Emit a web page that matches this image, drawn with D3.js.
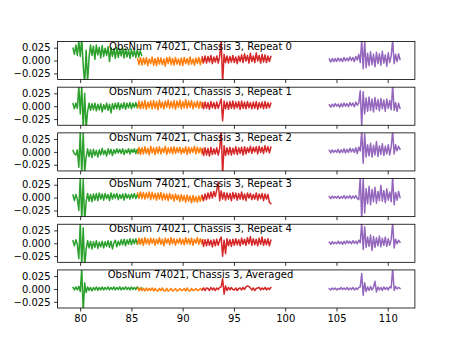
<!DOCTYPE html>
<html><head><meta charset="utf-8">
<script src="https://cdn.jsdelivr.net/npm/d3@7"></script>
<style>body{margin:0;background:#fff}svg{display:block}text{font-family:"DejaVu Sans",sans-serif}</style>
</head><body>
<script>
// Panel titles
const titles = ["ObsNum 74021, Chassis 3, Repeat 0","ObsNum 74021, Chassis 3, Repeat 1","ObsNum 74021, Chassis 3, Repeat 2","ObsNum 74021, Chassis 3, Repeat 3","ObsNum 74021, Chassis 3, Repeat 4","ObsNum 74021, Chassis 3, Averaged"];
// frequency span of each band (GHz)
const bandStart = [79.3, 85.6, 91.9, 104.3];
const bandEnd   = [86.0, 92.0, 98.6, 111.2];
const bandColors = ["#2ca02c","#ff7f0e","#d62728","#9467bd"];
const xTicks = [80,85,90,95,100,105,110];
const yTicks = [0.025,0,-0.025];
// values in units of 1e-3
const green0 = [24,12,30,10,38,8,44,-10,-45,20,-42,6,30,10,28,2,30,11,26,5,29,8,24,10,27,-2,25,8,23,4,26,6,22,9,25,5,23,7,21,4,22,8,20,6,21,7,19,10];
const orange0 = [4,-8,6,-9,5,-7,6,-10,3,-6,7,-9,4,-10,6,-7,5,-8,3,-11,6,-6,7,-8,4,-9,6,-7,3,-9,5,-10,6,-6,4,-8,7,-7,3,-9,5,-6,6,-8,4,-5];
const red0 = [7,-4,9,-5,8,-3,10,-6,7,-3,9,-5,8,40,-42,12,-4,9,-5,8,-3,10,-4,7,-6,9,-2,11,-4,13,-1,10,-5,14,-2,9,-4,15,-1,10,-5,12,-3,11,-4,9,-2,8];
const purple0 = [3,-3,4,-2,4,-2,5,-1,4,-2,6,-1,5,-1,7,0,6,-2,8,1,12,-4,40,-16,38,-14,14,-10,17,-8,12,-12,16,-6,13,-9,18,-5,11,-11,15,-4,9,40,-6,12,-2,13,2];

const green1 = [5,-5,6,-4,40,-15,42,-45,25,-44,-10,6,-8,5,-7,6,-9,4,-7,5,-11,3,-6,6,-8,4,-13,5,-6,6,-5,7,-7,5,-4,7,-6,6,-3,7,-5,6,-2,7,-3,6,-2,5];
const orange1 = [-3,10,-5,9,-4,11,-6,8,-3,10,-5,11,-4,9,-7,12,-3,8,-5,10,-2,12,-4,9,-3,11,-6,10,-2,12,-5,9,-3,13,-4,10,-2,11,-5,8,-2,10,-4,9,-3,7];
const red1 = [6,-5,8,-4,7,-6,9,-3,7,-5,8,-4,5,14,-28,10,-5,8,-6,9,-4,10,-5,8,-3,9,-6,10,-4,8,-5,9,-3,7,-5,8,-4,9,-6,7,-3,8,-5,9,-4,7,-3,6];
const purple1 = [3,-2,4,-1,5,0,4,-2,5,-1,6,0,5,-1,7,1,6,-1,8,2,6,30,-40,28,-15,16,-10,18,-8,14,-11,17,-6,13,-9,15,-5,12,-10,14,-4,11,-7,40,-8,7,-10,6,-4];

const green2 = [3,-4,-6,4,-30,40,-45,38,-40,-10,6,-9,4,-11,5,-7,3,-10,4,-6,7,-5,3,-8,6,-4,5,-7,4,-3,6,-2,5,-3,6,-5,4,-2,6,-4,5,-1,6,-3,5,-2,4,5];
const orange2 = [-3,9,-5,8,-4,10,-3,7,-6,11,-2,8,-5,9,-3,10,-4,7,-1,11,-5,8,-2,9,-4,10,-3,8,-1,9,-4,7,-2,10,-5,9,-3,8,-1,11,-4,9,-2,8,-3,7];
const red2 = [5,-7,8,-6,7,-8,9,-5,6,-4,8,-6,7,42,-45,12,-7,8,-5,9,-6,7,-4,10,-5,8,-3,9,-6,10,-4,8,-1,11,-3,9,0,10,-4,11,-1,9,-3,12,0,10,-2,9];
const purple2 = [3,-2,4,-1,3,-1,5,-2,4,-1,6,-2,5,-1,7,0,6,-1,8,-3,9,2,40,-22,35,-10,14,-8,17,-10,13,-6,20,-9,12,-5,16,-7,11,-4,14,-6,10,40,-4,14,2,11,5];

const green3 = [5,-6,6,-3,-25,40,-45,35,-45,-8,8,-7,6,-8,7,-5,8,-6,9,-3,7,-5,8,-2,6,-6,9,-3,7,-1,8,-4,6,-2,7,-5,8,-1,6,-3,7,-1,8,-2,6,-1,7,2];
const orange3 = [9,-1,11,-2,10,-3,9,-1,11,-4,10,-2,8,-5,9,-3,10,-5,8,-4,7,-6,8,-3,6,-7,7,-4,5,-8,6,-6,4,-9,5,-7,3,-10,4,-8,2,-9,3,-7,4,-5];
const red3 = [4,-6,7,-4,9,-2,11,-1,12,2,15,30,-6,13,-3,10,-5,9,-3,8,-6,10,-2,9,-5,8,-3,11,-4,7,-6,9,-1,8,-4,6,-3,9,-5,7,-2,8,-6,7,-3,6,-9,-12];
const purple3 = [2,-2,3,-1,2,-1,3,-2,2,-1,4,-2,3,-1,4,-2,3,-1,4,-2,-4,40,-45,38,-30,17,-12,22,-14,16,-8,20,-11,12,-6,24,-7,14,-10,17,-5,11,-8,40,-14,10,-5,12,0];

const green4 = [5,-5,7,-2,-30,40,-45,30,-45,-12,5,-9,4,-11,3,-8,5,-10,2,-7,4,-9,3,-6,5,-8,4,-11,1,6,-7,4,-4,7,-3,8,-5,7,-2,9,-3,8,-1,9,-2,7,-1,8];
const orange4 = [-1,10,-2,9,-4,11,-1,9,-3,10,0,9,-4,8,-1,11,-2,8,-5,10,0,9,-3,11,-1,9,-4,8,0,10,-2,8,-3,11,-1,9,-2,10,-4,8,0,11,-2,9,-1,7];
const red4 = [6,-6,7,-5,8,-4,6,-7,7,-5,8,-4,6,12,-25,6,-20,9,-5,7,-6,8,-4,9,-3,7,-5,10,-2,8,-4,11,-1,13,-4,9,-3,8,-5,10,-2,12,-4,8,-3,9,-5,6];
const purple4 = [2,-2,3,-1,2,-1,4,-1,3,-2,4,-1,5,0,4,-1,5,0,4,-1,6,1,40,-12,32,-8,12,-6,16,-14,13,-8,11,-5,14,-7,10,-4,12,-6,9,-4,7,40,-9,8,-1,6,2];

const green5 = [3,-2,4,-2,5,-5,40,-45,12,-7,4,-3,3,-4,3,-2,4,-3,3,-2,4,-2,3,-1,4,-2,3,-1,4,-2,3,-1,4,-2,3,-1,4,-1,3,-2,4,-1,3,-1,4,1,-1,2];
const orange5 = [2,-3,2,-3,1,-4,2,-3,1,-3,2,-4,1,-3,-4,1,-3,2,-3,-4,1,-4,-2,1,-4,-2,1,-4,-2,1,-3,-2,1,-4,2,-3,-4,1,-3,-2,1,-3,-2,1,-2,1];
const red5 = [-2,2,-3,2,1,-3,3,-2,2,-3,2,-1,3,4,20,-10,6,-3,3,-2,3,-1,-2,2,-3,1,2,-2,3,-1,4,6,5,2,-2,2,-3,1,2,3,-2,2,-1,3,-2,2,-1,3];
const purple5 = [1,-2,2,-1,2,-2,1,-1,3,-1,2,-1,3,-2,2,-1,3,-2,2,-1,3,4,30,-12,12,-5,4,-3,5,-2,3,15,-6,4,-2,3,-3,4,-1,3,-2,4,2,40,-3,5,0,3,1];

const panels = [
  [green0,orange0,red0,purple0],
  [green1,orange1,red1,purple1],
  [green2,orange2,red2,purple2],
  [green3,orange3,red3,purple3],
  [green4,orange4,red4,purple4],
  [green5,orange5,red5,purple5]
];

const W = 461, H = 346;
const mLeft = 57.6, mRight = 414.9, mTop = 41.5, mBottom = 308;
const ph = (mBottom - mTop) / (6 + 5 * 0.2), gap = ph * 0.2;

const svg = d3.select("body").append("svg").attr("width", W).attr("height", H);
const x = d3.scaleLinear().domain([77.8, 112.65]).range([mLeft, mRight]);

panels.forEach((bands, p) => {
  const y0 = mTop + p * (ph + gap);
  const y = d3.scaleLinear().domain([-0.037, 0.037]).range([y0 + ph, y0]);
  const g = svg.append("g");
  const cid = "clip" + p;
  svg.append("clipPath").attr("id", cid).append("rect")
    .attr("x", mLeft).attr("y", y0).attr("width", mRight - mLeft).attr("height", ph);
  const lines = g.append("g").attr("clip-path", `url(#${cid})`);
  bands.forEach((vals, b) => {
    const idx = d3.scaleLinear().domain([0, vals.length - 1]).range([bandStart[b], bandEnd[b]]);
    const line = d3.line().x((d, i) => x(idx(i))).y(d => y(d / 1000));
    lines.append("path").datum(vals).attr("d", line)
      .attr("fill", "none").attr("stroke", bandColors[b]).attr("stroke-width", 1.5)
      .attr("stroke-linejoin", "round").attr("stroke-linecap", "square");
  });
  const ya = d3.axisLeft(y).tickValues(yTicks).tickSize(3.5).tickPadding(3.5)
    .tickFormat(d => d3.format(".3f")(d).replace("-", "\u2212"));
  const yg = g.append("g").attr("transform", `translate(${mLeft},0)`).call(ya);
  yg.select(".domain").remove();
  const xa = d3.axisBottom(x).tickValues(xTicks).tickSize(3.5).tickPadding(3.5)
    .tickFormat(p === 5 ? d3.format("d") : () => "");
  const xg = g.append("g").attr("transform", `translate(0,${y0 + ph})`).call(xa);
  xg.select(".domain").remove();
  [yg, xg].forEach(a => {
    a.selectAll(".tick line").attr("stroke", "#000").attr("stroke-width", 0.8);
    a.selectAll(".tick text").attr("font-size", 10).attr("fill", "#000")
      .attr("font-family", "DejaVu Sans, sans-serif");
  });
  g.append("rect").attr("x", mLeft).attr("y", y0).attr("width", mRight - mLeft).attr("height", ph)
    .attr("fill", "none").attr("stroke", "#000").attr("stroke-width", 0.8);
  g.append("text").attr("x", mLeft + 0.40 * (mRight - mLeft)).attr("y", y0 + 8)
    .attr("text-anchor", "middle").attr("font-size", 10).attr("fill", "#000")
    .text(titles[p]);
});
</script>
</body></html>
